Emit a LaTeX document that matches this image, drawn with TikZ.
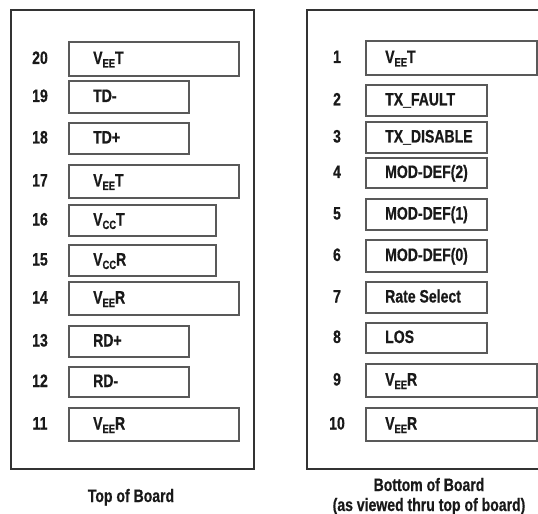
\documentclass[tikz,border=0pt]{standalone}
\usepackage{fontspec}
\setmainfont{Liberation Sans}[FakeStretch=0.78, BoldFeatures={FakeBold=0.6}]
\newcommand{\Vsub}[1]{V\raisebox{-3.5bp}{\fontsize{12bp}{12bp}\selectfont #1}}
\begin{document}
\begin{tikzpicture}[x=1bp,y=-1bp,
  board/.style={draw=black!80, line width=1.1bp},
  pinbox/.style={draw=black!65, line width=1.2bp, fill=white},
  pinnum/.style={anchor=base, font=\fontsize{18bp}{20bp}\selectfont\bfseries, text=black!90, inner sep=0pt},
  pinlbl/.style={anchor=base west, font=\fontsize{18bp}{20bp}\selectfont\bfseries, text=black!90, inner sep=0pt},
  caption/.style={anchor=base, font=\fontsize{18bp}{20bp}\selectfont\bfseries, text=black!90, inner sep=0pt, align=center}]
\useasboundingbox (0,0) rectangle (538,514);
% boards
\draw[board] (11,10) rectangle (254,469);
\draw[board] (540,10) -- (307,10) -- (307,469) -- (540,469);
% left board pins
\foreach \n/\t/\b/\r/\lab in {
  20/42/76/239/{\Vsub{EE}T},
  19/81/113/189/{TD-},
  18/123/154/189/{TD+},
  17/165/198/239/{\Vsub{EE}T},
  16/205/236/216/{\Vsub{CC}T},
  15/245/276/216/{\Vsub{CC}R},
  14/282/315/239/{\Vsub{EE}R},
  13/326/357/189/{RD+},
  12/367/397/189/{RD-},
  11/408/441/239/{\Vsub{EE}R}}{
  \draw[pinbox] (69,\t) rectangle (\r,\b);
  \node[pinnum] (n\n) at (40,{(\t+\b)/2+5}) {\n};
  \node[pinlbl] (l\n) at (93,{(\t+\b)/2+5}) {\lab};
}
% right board pins
\foreach \n/\t/\b/\r/\lab in {
  1/41/75/537/{\Vsub{EE}T},
  2/85/116/487/{TX\_FAULT},
  3/122/153/487/{TX\_DISABLE},
  4/158/188/487/{MOD-DEF(2)},
  5/199/230/487/{MOD-DEF(1)},
  6/240/272/487/{MOD-DEF(0)},
  7/282/313/487/{Rate Select},
  8/323/353/487/{LOS},
  9/364/397/537/{\Vsub{EE}R},
  10/408/441/537/{\Vsub{EE}R}}{
  \draw[pinbox] (366,\t) rectangle (\r,\b);
  \node[pinnum] (n\n) at (337,{(\t+\b)/2+5}) {\n};
  \node[pinlbl] (l\n) at (385,{(\t+\b)/2+5}) {\lab};
}
% captions
\node[caption] (top) at (131,502) {Top of Board};
\node[caption] (bot1) at (429,491) {Bottom of Board};
\node[caption] (bot2) at (429,511) {(as viewed thru top of board)};
\end{tikzpicture}
\end{document}
